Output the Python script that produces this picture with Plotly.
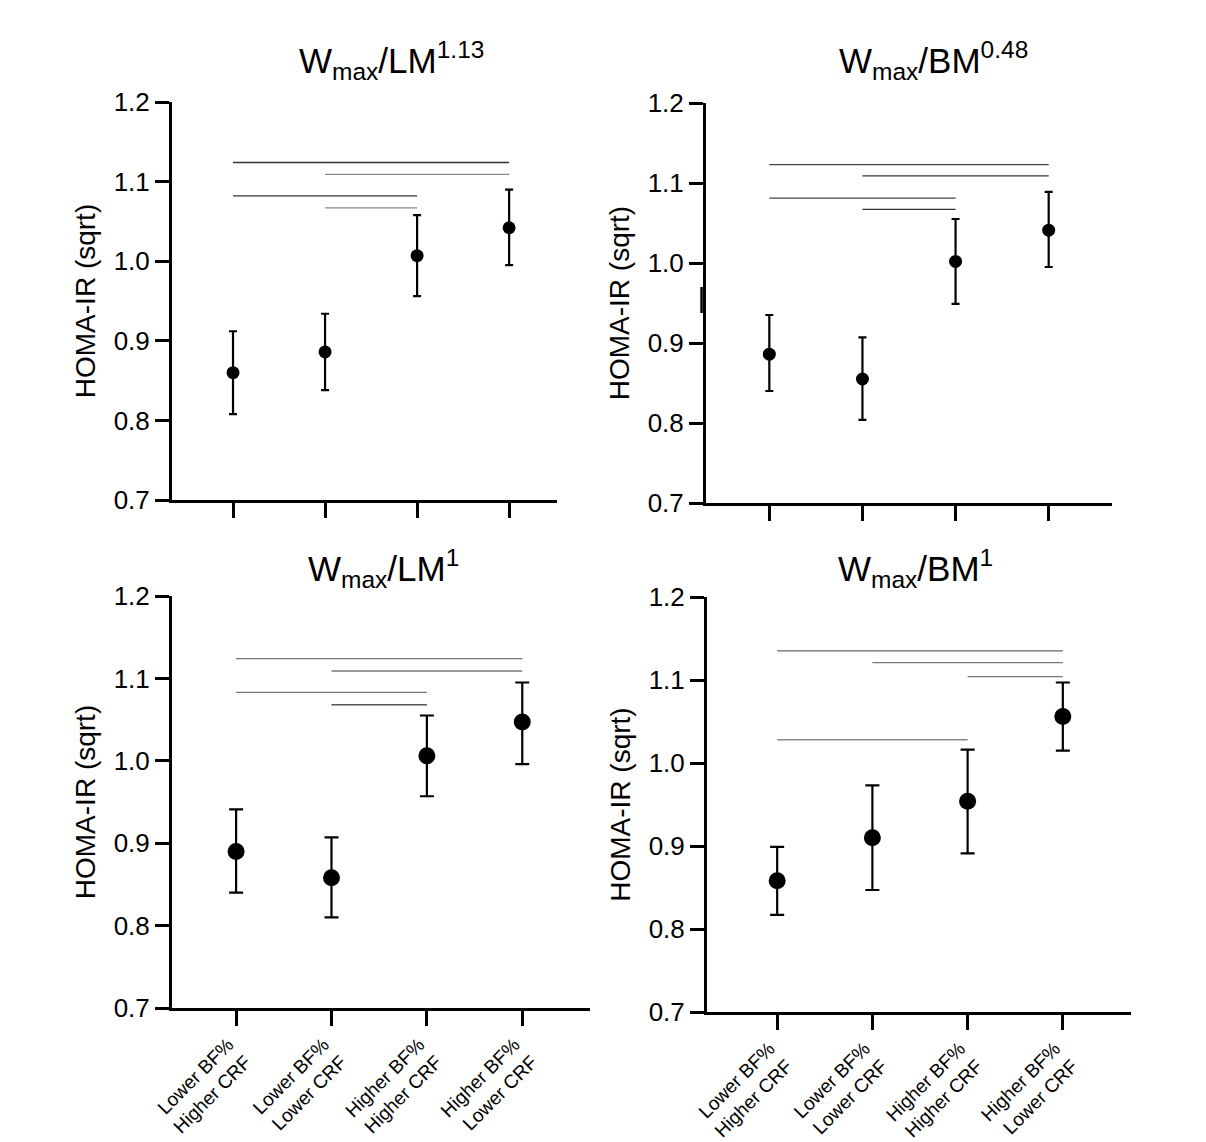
import plotly.graph_objects as go

categories = ["Lower BF%<br>Higher CRF", "Lower BF%<br>Lower CRF",
              "Higher BF%<br>Higher CRF", "Higher BF%<br>Lower CRF"]
x_pos = [1, 2, 3, 4]

titles = ["W<sub>max</sub>/LM<sup>1.13</sup>", "W<sub>max</sub>/BM<sup>0.48</sup>",
          "W<sub>max</sub>/LM<sup>1</sup>", "W<sub>max</sub>/BM<sup>1</sup>"]

mean_lm113 = [0.860, 0.886, 1.007, 1.042]
upper_lm113 = [0.912, 0.934, 1.058, 1.090]
lower_lm113 = [0.808, 0.838, 0.956, 0.995]

mean_bm048 = [0.886, 0.855, 1.002, 1.041]
upper_bm048 = [0.935, 0.907, 1.055, 1.089]
lower_bm048 = [0.840, 0.804, 0.949, 0.995]

mean_lm1 = [0.890, 0.858, 1.006, 1.047]
upper_lm1 = [0.941, 0.907, 1.055, 1.095]
lower_lm1 = [0.840, 0.810, 0.957, 0.996]

mean_bm1 = [0.858, 0.910, 0.954, 1.056]
upper_bm1 = [0.899, 0.973, 1.016, 1.097]
lower_bm1 = [0.817, 0.847, 0.891, 1.015]

# significance bars: (from group, to group, height)
sig_lm113 = [(1, 4, 1.124), (2, 4, 1.109), (1, 3, 1.082), (2, 3, 1.067)]
sig_bm048 = [(1, 4, 1.123), (2, 4, 1.109), (1, 3, 1.081), (2, 3, 1.067)]
sig_lm1 = [(1, 4, 1.124), (2, 4, 1.109), (1, 3, 1.083), (2, 3, 1.068)]
sig_bm1 = [(1, 4, 1.135), (2, 4, 1.121), (3, 4, 1.104), (1, 3, 1.028)]

panels = [
    (mean_lm113, upper_lm113, lower_lm113, sig_lm113),
    (mean_bm048, upper_bm048, lower_bm048, sig_bm048),
    (mean_lm1, upper_lm1, lower_lm1, sig_lm1),
    (mean_bm1, upper_bm1, lower_bm1, sig_bm1),
]

W, H = 1206, 1142
# pixel layout: (x_left, x_right, y_top(1.2), y_bottom(0.7), xrange)
geom = [
    (172, 557, 102, 500, [0.337, 4.52]),
    (706, 1112, 103, 503, [0.32, 4.68]),
    (172, 590, 596, 1008, [0.328, 4.71]),
    (707, 1131, 597, 1012, [0.263, 4.716]),
]
marker_sizes = [13, 13, 17, 17]
cap_widths = [4, 4, 7, 7]
sig_colors = [["#333333", "#888888", "#333333", "#888888"],
              ["#444444", "#333333", "#444444", "#333333"],
              ["#777777", "#777777", "#777777", "#555555"],
              ["#666666", "#777777", "#777777", "#888888"]]
title_y = [60, 60, 568, 568]
title_x = [391, 933, 383, 915]

fig = go.Figure()
font_family = "Liberation Sans, Arial, sans-serif"

for k, ((m, up, lo, sig), (xl, xr, yt, yb, xr_rng)) in enumerate(zip(panels, geom)):
    ax = "" if k == 0 else str(k + 1)
    xa, ya = "x" + ax, "y" + ax
    err_plus = [u - v for u, v in zip(up, m)]
    err_minus = [v - l for v, l in zip(m, lo)]
    for s_i, (a, b, h) in enumerate(sig):
        fig.add_trace(go.Scatter(x=[a, b], y=[h, h], mode="lines",
                                 line=dict(color=sig_colors[k][s_i], width=1.3),
                                 xaxis=xa, yaxis=ya, showlegend=False, hoverinfo="skip"))
    fig.add_trace(go.Scatter(
        x=x_pos, y=m, mode="markers",
        marker=dict(color="black", size=marker_sizes[k]),
        error_y=dict(type="data", symmetric=False, array=err_plus, arrayminus=err_minus,
                     color="black", thickness=2.2, width=cap_widths[k]),
        xaxis=xa, yaxis=ya, showlegend=False))

    bottom = k >= 2
    xdict = dict(domain=[xl / W, xr / W], range=xr_rng, anchor=ya, automargin=False,
                 showline=True, linewidth=3, linecolor="black",
                 ticks="outside", ticklen=15, tickwidth=3, tickcolor="black",
                 tickvals=x_pos, ticktext=categories if bottom else [""] * 4,
                 showgrid=False, zeroline=False,
                 tickfont=dict(family=font_family, size=19, color="black"),
                 tickangle=-45 if bottom else 0,
                 ticklabelshift=-8 if bottom else 0)
    ydict = dict(domain=[1 - yb / H, 1 - yt / H], range=[0.7, 1.2], anchor=xa,
                 automargin=False,
                 showline=True, linewidth=3, linecolor="black",
                 ticks="outside", ticklen=14, tickwidth=3, tickcolor="black",
                 tickvals=[0.7, 0.8, 0.9, 1.0, 1.1, 1.2], tickformat=".1f",
                 showgrid=False, zeroline=False,
                 tickfont=dict(family=font_family, size=26, color="black"),
                 title=dict(text="HOMA-IR (sqrt)", standoff=10,
                            font=dict(family=font_family, size=28, color="black")))
    fig.layout["xaxis" + ax] = xdict
    fig.layout["yaxis" + ax] = ydict
    fig.add_annotation(text=titles[k], xref="paper", yref="paper",
                       x=title_x[k] / W, y=1 - title_y[k] / H,
                       showarrow=False, xanchor="center", yanchor="middle",
                       font=dict(family=font_family, size=35, color="black"))

# small stray vertical mark left of the second panel's y axis (present in the original figure)
fig.add_shape(type="line", xref="x2 domain", yref="y2", x0=-0.011, x1=-0.011,
              y0=0.9375, y1=0.97, line=dict(color="black", width=2.5))

fig.update_layout(width=W, height=H, margin=dict(l=0, r=0, t=0, b=0),
                  plot_bgcolor="white", paper_bgcolor="white",
                  font=dict(family=font_family, color="black"))

fig.write_html("out.html", config={"displayModeBar": False},
               post_script="document.body.style.margin='0px';")
